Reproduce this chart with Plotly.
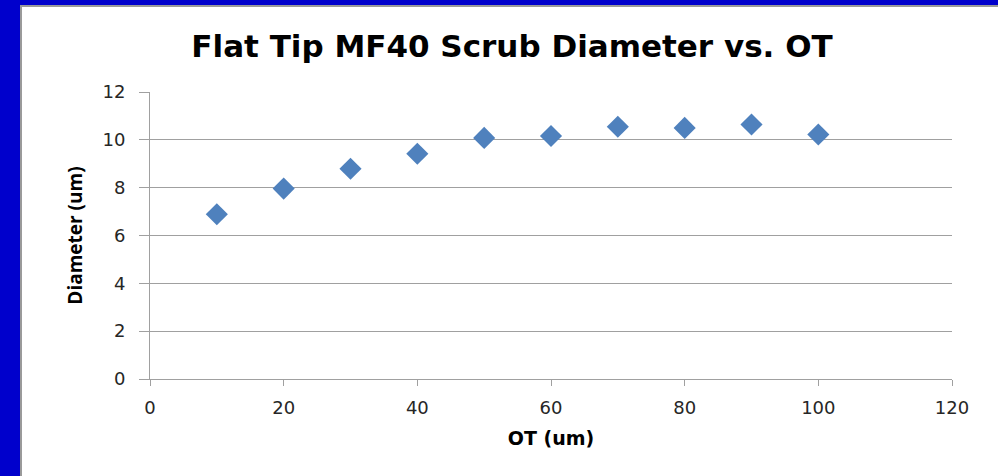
import plotly.graph_objects as go

# Overtravel (um) and measured scrub diameter (um)
ot_um = [10, 20, 30, 40, 50, 60, 70, 80, 90, 100]
diameter_um = [6.89, 7.96, 8.79, 9.42, 10.08, 10.16, 10.55, 10.50, 10.64, 10.22]

x_ticks = [0, 20, 40, 60, 80, 100, 120]
y_ticks = [0, 2, 4, 6, 8, 10, 12]

WIDE = "DejaVu Sans"
W, H = 998, 476
ML, MR, MT, MB = 150, 46, 92, 97
pw = W - ML - MR
ph = H - MT - MB


def px_x(p):
    return (p - ML) / pw


def px_y(p):
    return (H - MB - p) / ph


FRAME = "#0000CC"
EDGE = "#9A9A9A"

fig = go.Figure(
    go.Scatter(
        x=ot_um,
        y=diameter_um,
        mode="markers",
        marker=dict(symbol="diamond", size=17, color="#4F81BD",
                    line=dict(width=0)),
        showlegend=False,
        hoverinfo="x+y",
    )
)

# Blue slide frame along the top and left edges, with a thin grey rim
fig.add_shape(type="rect", xref="paper", yref="paper", layer="below",
              x0=px_x(-10), x1=px_x(20), y0=px_y(H + 10), y1=px_y(-10),
              fillcolor=FRAME, line=dict(width=0))
fig.add_shape(type="rect", xref="paper", yref="paper", layer="below",
              x0=px_x(-10), x1=px_x(W + 10), y0=px_y(5), y1=px_y(-10),
              fillcolor=FRAME, line=dict(width=0))
fig.add_shape(type="line", xref="paper", yref="paper", layer="below",
              x0=px_x(21), x1=px_x(21), y0=px_y(H + 10), y1=px_y(5),
              line=dict(color=EDGE, width=2))
fig.add_shape(type="line", xref="paper", yref="paper", layer="below",
              x0=px_x(20), x1=px_x(W + 10), y0=px_y(6), y1=px_y(6),
              line=dict(color=EDGE, width=2))

fig.update_layout(
    width=W,
    height=H,
    margin=dict(l=ML, r=MR, t=MT, b=MB),
    paper_bgcolor="white",
    plot_bgcolor="white",
    font=dict(family=WIDE, color="#262626"),
    title=dict(text="<b>Flat Tip MF40 Scrub Diameter vs. OT</b>",
               x=512 / W, y=1 - 46 / H, xanchor="center", yanchor="middle",
               font=dict(family=WIDE, size=31, color="black")),
    xaxis=dict(
        range=[0, 120], tickvals=x_ticks, ticktext=[str(v) for v in x_ticks],
        showgrid=False, zeroline=False,
        showline=True, linecolor="#A0A0A0", linewidth=1,
        ticks="outside", ticklen=6, tickcolor="#A0A0A0",
        ticklabelstandoff=6,
        tickfont=dict(family=WIDE, size=18, color="#262626"),
        title=dict(text="<b>OT (um)</b>",
                   font=dict(family=WIDE, size=19, color="black"),
                   standoff=15),
    ),
    yaxis=dict(
        range=[0, 12], tickvals=y_ticks, ticktext=[str(v) for v in y_ticks],
        showgrid=True, gridcolor="#A0A0A0", gridwidth=1, zeroline=False,
        showline=True, linecolor="#A0A0A0", linewidth=1,
        ticks="outside", ticklen=10, tickcolor="#A0A0A0",
        ticklabelstandoff=10,
        tickfont=dict(family=WIDE, size=18, color="#262626"),
        title=dict(text="<b>Diameter (um)</b>",
                   font=dict(family="Open Sans", size=19, color="black"),
                   standoff=14),
    ),
)

fig.write_html("out.html")
